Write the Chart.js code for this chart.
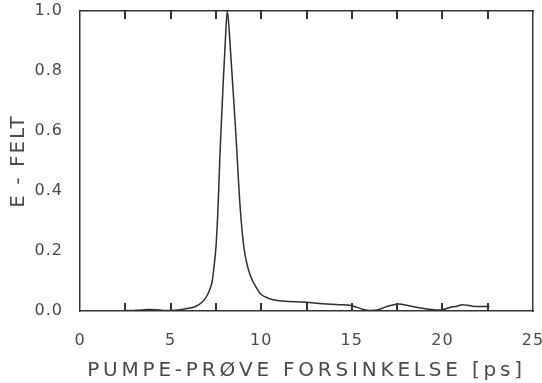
<!DOCTYPE html>
<html><head><meta charset="utf-8">
<script src="https://cdn.jsdelivr.net/npm/chart.js@4/dist/chart.umd.min.js"></script>
<style>html,body{margin:0;padding:0;background:#fff}</style>
</head><body>
<canvas id="c" width="542" height="383"></canvas>
<script>
// Pump-probe delay (ps)
const delayPs = [2.4, 3.0, 3.4, 3.8, 4.2, 4.6, 5.0, 5.5, 6.0, 6.4, 6.75, 7.0, 7.15, 7.3, 7.4, 7.5, 7.6, 7.67, 7.73, 7.82, 7.91, 8.02, 8.13, 8.26, 8.41, 8.55, 8.66, 8.75, 8.87, 9.05, 9.2, 9.42, 9.79, 10.0, 10.3, 10.6, 11.2, 12.45, 13.4, 14.3, 14.95, 15.3, 15.6, 16.0, 16.4, 16.8, 17.2, 17.6, 18.1, 18.7, 19.3, 19.7, 20.0, 20.4, 20.8, 21.1, 21.4, 21.8, 22.2, 22.6];
// Normalised E-field
const eField = [0.001, 0.002, 0.003, 0.005, 0.004, 0.002, 0.002, 0.004, 0.009, 0.016, 0.03, 0.05, 0.07, 0.1, 0.15, 0.21, 0.32, 0.43, 0.53, 0.65, 0.77, 0.9, 1.0, 0.91, 0.77, 0.64, 0.53, 0.43, 0.32, 0.21, 0.16, 0.115, 0.072, 0.055, 0.045, 0.038, 0.033, 0.029, 0.024, 0.021, 0.018, 0.012, 0.006, 0.002, 0.003, 0.012, 0.019, 0.023, 0.018, 0.011, 0.006, 0.003, 0.004, 0.012, 0.016, 0.021, 0.019, 0.015, 0.015, 0.015];

const xLabelValues = [0, 5, 10, 15, 20, 25];
const xMarkValues = [2.5, 5, 7.5, 10, 12.5, 15, 17.5, 20, 22.5];
const yTickStep = 0.2;
const xTitle = 'PUMPE-PRØVE FORSINKELSE [ps]';
const yTitle = 'E - FELT';

const points = delayPs.map((x, i) => ({x: x, y: eField[i]}));
const FONT = 'DejaVu Sans';
const TXT = '#4a4a4a';
const AX = '#333';

const spacingPlugin = {
  id: 'spacing',
  beforeDraw(chart) {
    const wrap = (scale, fn, sp) => {
      const orig = scale[fn];
      if (orig._sp) return;
      const w = function (...a) {
        const c = this.ctx; const prev = c.letterSpacing;
        c.letterSpacing = sp; orig.apply(this, a); c.letterSpacing = prev;
      };
      w._sp = true; scale[fn] = w;
    };
    wrap(chart.scales.x, 'drawTitle', '3.8px');
    wrap(chart.scales.y, 'drawTitle', '2px');
    wrap(chart.scales.x, 'drawLabels', '1px');
    wrap(chart.scales.y, 'drawLabels', '1px');
  }
};

// inward tick marks on the bottom and top axes
const innerTicks = {
  id: 'innerTicks',
  afterDraw(chart) {
    const ctx = chart.ctx, a = chart.chartArea, x = chart.scales.x;
    ctx.save();
    ctx.globalAlpha = 1;
    ctx.setLineDash([]);
    ctx.lineWidth = 2;
    ctx.strokeStyle = AX;
    xMarkValues.forEach(v => {
      const px = Math.round(x.getPixelForValue(v));
      ctx.beginPath(); ctx.moveTo(px, a.bottom); ctx.lineTo(px, a.bottom - 8); ctx.stroke();
      ctx.beginPath(); ctx.moveTo(px, a.top); ctx.lineTo(px, a.top + 8); ctx.stroke();
    });
    ctx.restore();
  }
};

const noPad = s => { s.paddingLeft = 0; s.paddingRight = 0; s.paddingTop = 0; s.paddingBottom = 0; };

new Chart(document.getElementById('c'), {
  type: 'line',
  data: { datasets: [{ data: points, borderColor: '#2e2e2e', borderWidth: 1.5, pointRadius: 0, fill: false, cubicInterpolationMode: 'monotone' }] },
  options: {
    responsive: false, animation: false, devicePixelRatio: 1,
    layout: { padding: 0 },
    plugins: { legend: { display: false }, tooltip: { enabled: false } },
    scales: {
      x: {
        type: 'linear', position: 'bottom', min: 0, max: 25,
        ticks: { stepSize: 5, autoSkip: false, maxRotation: 0, padding: 12, color: TXT,
          font: { family: FONT, size: 16 },
          callback: v => xLabelValues.includes(v) ? String(v) : '' },
        grid: { display: false },
        border: { display: true, color: AX, width: 1.5 },
        title: { display: true, text: xTitle, color: TXT, font: { family: FONT, size: 20 }, padding: { top: 0, bottom: 0 } },
        afterFit: s => { s.height = 72; noPad(s); }
      },
      x2: {
        type: 'linear', position: 'top', min: 0, max: 25, display: true,
        ticks: { display: false },
        grid: { display: false },
        border: { display: true, color: AX, width: 1.5 },
        afterFit: s => { s.height = 11; noPad(s); }
      },
      y: {
        type: 'linear', position: 'left', min: 0, max: 1,
        ticks: { stepSize: yTickStep, padding: 9, color: TXT, font: { family: FONT, size: 16 },
          callback: v => v.toFixed(1) },
        grid: { display: false },
        border: { display: true, color: AX, width: 1.5 },
        title: { display: true, text: yTitle, color: TXT, font: { family: FONT, size: 20 }, padding: { top: 7, bottom: 0 } },
        afterFit: s => { s.width = 80; noPad(s); }
      },
      y2: {
        type: 'linear', position: 'right', min: 0, max: 1, display: true,
        ticks: { display: false },
        grid: { display: false },
        border: { display: true, color: AX, width: 1.5 },
        afterFit: s => { s.width = 9; noPad(s); }
      }
    }
  },
  plugins: [spacingPlugin, innerTicks]
});
</script>
</body></html>
